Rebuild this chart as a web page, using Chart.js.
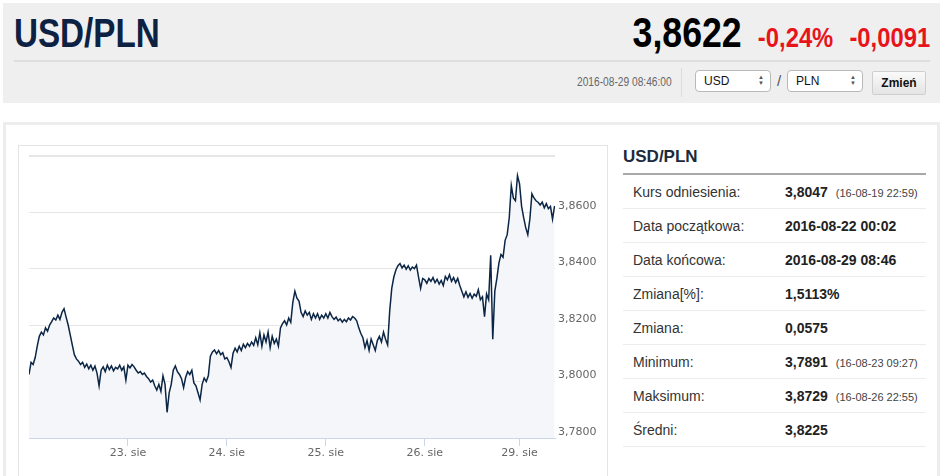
<!DOCTYPE html>
<html>
<head>
<meta charset="utf-8">
<script src="https://cdn.jsdelivr.net/npm/chart.js@4.4.1/dist/chart.umd.min.js"></script>
<style>
  html, body { margin: 0; padding: 0; background: #fff; }
  body { width: 945px; height: 476px; position: relative; overflow: hidden; font-family: "Liberation Sans", Arial, sans-serif; }
  .abs { position: absolute; }
  #head { left: 3px; top: 3px; width: 937px; height: 100px; background: #efefef; }
  #title { left: 14px; top: 10px; font: bold 40px "Liberation Sans", sans-serif; color: #0d2142; line-height: 46px; transform: scaleX(0.83); transform-origin: left top; }
  #quote { right: 15px; top: 10px; line-height: 46px; font-family: "Liberation Sans", sans-serif; font-weight: bold; white-space: nowrap; transform: scaleX(0.85); transform-origin: right top; }
  #quote .last { font-size: 42px; color: #000; }
  #quote .chg { font-size: 28px; color: #e8141c; margin-left: 19px; }
  #hr { left: 14px; top: 60px; width: 916px; height: 2px; background: #dedede; }
  #stamp { left: 577px; top: 75px; font: 12px "Liberation Sans", sans-serif; color: #666; transform: scaleX(0.85); transform-origin: left top; }
  #vsep { left: 681px; top: 68px; width: 1px; height: 29px; background: #dcdcdc; }
  .sel { top: 70px; width: 76px; height: 22px; border: 1px solid #b9b9b9; border-radius: 4px; background: #fff; box-sizing: border-box; font: 12px "Liberation Sans", sans-serif; color: #111; line-height: 20px; padding-left: 8px; }
  .sel .arr { position: absolute; right: 6px; top: 3px; font-size: 6px; line-height: 6px; color: #555; }
  #slash { left: 777px; top: 72px; font: 15px "Liberation Sans", sans-serif; color: #555; }
  #btn { left: 872px; top: 71px; width: 54px; height: 24px; box-sizing: border-box; border: 1px solid #cfcfcf; border-radius: 2px; background: linear-gradient(#fafafa, #e4e4e4); font: bold 12px "Liberation Sans", sans-serif; text-align: center; line-height: 22px; color: #111; }
  #panel { left: 3px; top: 122px; width: 937px; height: 370px; border: 3px solid #ededed; box-sizing: border-box; background: #fff; }
  #frame { left: 18px; top: 145px; width: 590px; height: 350px; border: 1px solid #e4e4e4; box-sizing: border-box; }
  #chartBox { left: 19px; top: 146px; width: 587px; height: 330px; }
  #tabTitle { left: 623px; top: 147px; font: bold 17px "Liberation Sans", sans-serif; color: #1b2a3c; }
  #tabLine { left: 623px; top: 173px; width: 303px; height: 2px; background: #a9a9a9; }
  .row { left: 623px; width: 303px; height: 34px; border-bottom: 1px solid #ececec; box-sizing: border-box; font-size: 14px; }
  .row .lab { position: absolute; left: 10px; top: 9px; color: #333; }
  .row .val { position: absolute; left: 162px; top: 9px; color: #222; font-weight: bold; }
  .row .note { font-weight: normal; font-size: 11px; color: #444; margin-left: 8px; }
</style>
</head>
<body>
<div id="head" class="abs"></div>
<div id="title" class="abs">USD/PLN</div>
<div id="quote" class="abs"><span class="last">3,8622</span><span class="chg">-0,24%</span><span class="chg">-0,0091</span></div>
<div id="hr" class="abs"></div>
<div id="stamp" class="abs">2016-08-29 08:46:00</div>
<div id="vsep" class="abs"></div>
<div class="abs sel" style="left:695px">USD<span class="arr">▲<br>▼</span></div>
<div id="slash" class="abs">/</div>
<div class="abs sel" style="left:787px">PLN<span class="arr">▲<br>▼</span></div>
<div id="btn" class="abs">Zmień</div>

<div id="panel" class="abs"></div>
<div id="frame" class="abs"></div>
<div id="chartBox" class="abs"><canvas id="rateChart"></canvas></div>

<div id="tabTitle" class="abs">USD/PLN</div>
<div id="tabLine" class="abs"></div>
<div id="rows"></div>

<script>
'use strict';

// USD/PLN quotes, one value every half hour, per trading day
const STEP = 0.5;
const day22 = [
  3.8025, 3.8068, 3.8060, 3.8085, 3.8125, 3.8160, 3.8175, 3.8165, 3.8190, 3.8178,
  3.8200, 3.8212, 3.8225, 3.8218, 3.8235, 3.8220, 3.8245, 3.8258, 3.8228, 3.8200,
  3.8165, 3.8130, 3.8095, 3.8080, 3.8072, 3.8060, 3.8068, 3.8050, 3.8062, 3.8045,
  3.8058, 3.8040, 3.8055, 3.8030, 3.7985, 3.8040, 3.8052, 3.8035, 3.8058, 3.8042,
  3.8055, 3.8038, 3.8050, 3.8045, 3.8058, 3.8040, 3.8052, 3.8005
];
const day23 = [
  3.8058, 3.8048, 3.8060, 3.8052, 3.8040, 3.8030, 3.8035, 3.8025, 3.8030, 3.8018,
  3.8010, 3.7998, 3.8005, 3.7985, 3.7970, 3.7990, 3.7965, 3.8020, 3.7990, 3.7891,
  3.7960, 3.7990, 3.8040, 3.8055, 3.8035, 3.8025, 3.8010, 3.7978, 3.8015, 3.8035,
  3.8025, 3.8040, 3.7995, 3.7985, 3.7960, 3.7935, 3.7990, 3.8012, 3.8000, 3.8020,
  3.8090, 3.8105, 3.8112, 3.8098, 3.8110, 3.8095, 3.8102, 3.8080
];
const day24 = [
  3.8085, 3.8070, 3.8050, 3.8100, 3.8118, 3.8105, 3.8125, 3.8110, 3.8132, 3.8120,
  3.8135, 3.8125, 3.8140, 3.8128, 3.8155, 3.8130, 3.8172, 3.8125, 3.8165, 3.8140,
  3.8175, 3.8120, 3.8160, 3.8135, 3.8150, 3.8125, 3.8190, 3.8205, 3.8215, 3.8200,
  3.8225, 3.8210, 3.8280, 3.8320, 3.8295, 3.8285, 3.8245, 3.8230, 3.8250, 3.8235,
  3.8245, 3.8220, 3.8240, 3.8225, 3.8240, 3.8220, 3.8235, 3.8225
];
const day25 = [
  3.8240, 3.8225, 3.8245, 3.8230, 3.8220, 3.8228, 3.8215, 3.8222, 3.8210, 3.8220,
  3.8212, 3.8225, 3.8218, 3.8230, 3.8225, 3.8215, 3.8190, 3.8170, 3.8155, 3.8120,
  3.8145, 3.8110, 3.8150, 3.8130, 3.8110, 3.8145, 3.8160, 3.8140, 3.8175, 3.8150,
  3.8130, 3.8250, 3.8330, 3.8370, 3.8395, 3.8410, 3.8418, 3.8402, 3.8412, 3.8398,
  3.8410, 3.8395, 3.8405, 3.8400, 3.8412, 3.8370, 3.8330, 3.8365
];
const day26 = [
  3.8360, 3.8348, 3.8365, 3.8355, 3.8368, 3.8350, 3.8362, 3.8345, 3.8358, 3.8340,
  3.8372, 3.8360, 3.8378, 3.8355, 3.8368, 3.8350, 3.8365, 3.8340, 3.8320, 3.8300,
  3.8318, 3.8298, 3.8312, 3.8295, 3.8310, 3.8302, 3.8325, 3.8290, 3.8300, 3.8230,
  3.8310, 3.8290, 3.8447, 3.8150, 3.8320, 3.8365, 3.8420, 3.8450, 3.8440, 3.8500,
  3.8520, 3.8580, 3.8694, 3.8650, 3.8640, 3.8729
];
const day29 = [
  3.8700, 3.8620, 3.8580, 3.8545, 3.8520, 3.8575, 3.8665, 3.8650, 3.8640, 3.8635,
  3.8625, 3.8635, 3.8615, 3.8630, 3.8612, 3.8620, 3.8575, 3.8622
];
// ordinal hour where each day starts (weekend skipped)
const dayStart = [0, 24, 48, 72, 96, 119];
const tickHours = [24, 48, 72, 96, 119];
const tickLabels = ['23. sie', '24. sie', '25. sie', '26. sie', '29. sie'];
const yTicks = [3.78, 3.80, 3.82, 3.84, 3.86, 3.88];

const rowLabels = ['Kurs odniesienia:', 'Data początkowa:', 'Data końcowa:', 'Zmiana[%]:', 'Zmiana:', 'Minimum:', 'Maksimum:', 'Średni:'];
const rowValues = ['3,8047', '2016-08-22 00:02', '2016-08-29 08:46', '1,5113%', '0,0575', '3,7891', '3,8729', '3,8225'];
const rowNotes = ['(16-08-19 22:59)', '', '', '', '', '(16-08-23 09:27)', '(16-08-26 22:55)', ''];

// table on the right
{
  var rows = document.getElementById('rows');
  rowLabels.forEach(function (lab, i) {
    var d = document.createElement('div');
    d.className = 'abs row';
    d.style.top = (175 + i * 34) + 'px';
    var note = rowNotes[i] ? '<span class="note">' + rowNotes[i] + '</span>' : '';
    d.innerHTML = '<span class="lab">' + lab + '</span><span class="val">' + rowValues[i] + note + '</span>';
    rows.appendChild(d);
  });
}

{
  var days = [day22, day23, day24, day25, day26, day29];
  var points = [];
  days.forEach(function (vals, i) {
    vals.forEach(function (v, j) {
      points.push({ x: dayStart[i] + j * STEP, y: v });
    });
  });

  var axisFont = { family: '"DejaVu Sans", Verdana, sans-serif', size: 11 };

  var ctx = document.getElementById('rateChart').getContext('2d');
  new Chart(ctx, {
    type: 'line',
    data: {
      datasets: [{
        data: points,
        borderColor: '#0b2545',
        borderWidth: 1.5,
        backgroundColor: '#f4f6f9',
        fill: 'start',
        pointRadius: 0,
        tension: 0,
      }],
    },
    options: {
      responsive: true,
      maintainAspectRatio: false,
      animation: false,
      layout: { padding: { left: 10, top: 8, right: 0, bottom: 0 } },
      plugins: {
        legend: { display: false },
        tooltip: { enabled: false },
      },
      scales: {
        x: {
          type: 'linear',
          min: 0,
          max: 127.6,
          afterBuildTicks: function (axis) {
            axis.ticks = tickHours.map(function (h) { return { value: h }; });
          },
          afterFit: function (axis) { axis.height = 38; },
          grid: {
            drawOnChartArea: false,
            drawTicks: true,
            tickLength: 8,
            color: '#ccd6eb',
          },
          border: { display: true, color: '#ccd6eb' },
          ticks: {
            padding: 1,
            color: '#666',
            font: axisFont,
            maxRotation: 0,
            autoSkip: false,
            callback: function (value) {
              var i = tickHours.indexOf(value);
              return i >= 0 ? tickLabels[i] : '';
            },
          },
        },
        y: {
          position: 'right',
          min: 3.78,
          max: 3.88,
          afterBuildTicks: function (axis) {
            axis.ticks = yTicks.map(function (v) { return { value: v }; });
          },
          afterFit: function (axis) { axis.width = 51; },
          grid: {
            drawTicks: false,
            color: '#e6e6e6',
            lineWidth: function (c) { return c.tick && c.tick.value === 3.88 ? 2 : 1; },
          },
          border: { display: false },
          ticks: {
            padding: 3,
            labelOffset: -6,
            color: '#666',
            font: axisFont,
            callback: function (value) {
              if (value === 3.88) return '';
              return value.toFixed(4).replace('.', ',');
            },
          },
        },
      },
    },
  });
}
</script>
</body>
</html>
